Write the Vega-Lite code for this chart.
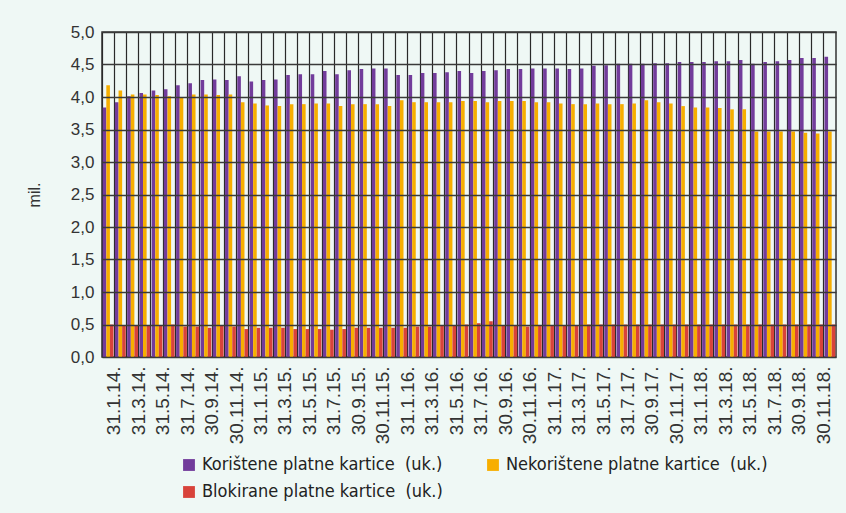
{
"$schema": "https://vega.github.io/schema/vega-lite/v6.json",
"width": 734, "height": 325,
"autosize": {"type": "none"},
"padding": {"left": 102, "top": 32, "right": 10, "bottom": 156},
"background": "#eff8f5",
"config": {"view": {"stroke": "#333", "strokeWidth": 1.5}, "font": "Liberation Sans"},
"data": {"values": [
{"d":"31.1.14.","s":"Korištene","v":3.84},{"d":"31.1.14.","s":"Nekorištene","v":4.18},{"d":"31.1.14.","s":"Blokirane","v":0.50},
{"d":"28.2.14.","s":"Korištene","v":3.92},{"d":"28.2.14.","s":"Nekorištene","v":4.10},{"d":"28.2.14.","s":"Blokirane","v":0.49},
{"d":"31.3.14.","s":"Korištene","v":4.01},{"d":"31.3.14.","s":"Nekorištene","v":4.04},{"d":"31.3.14.","s":"Blokirane","v":0.49},
{"d":"30.4.14.","s":"Korištene","v":4.06},{"d":"30.4.14.","s":"Nekorištene","v":4.04},{"d":"30.4.14.","s":"Blokirane","v":0.49},
{"d":"31.5.14.","s":"Korištene","v":4.10},{"d":"31.5.14.","s":"Nekorištene","v":4.03},{"d":"31.5.14.","s":"Blokirane","v":0.49},
{"d":"30.6.14.","s":"Korištene","v":4.12},{"d":"30.6.14.","s":"Nekorištene","v":4.01},{"d":"30.6.14.","s":"Blokirane","v":0.50},
{"d":"31.7.14.","s":"Korištene","v":4.18},{"d":"31.7.14.","s":"Nekorištene","v":4.00},{"d":"31.7.14.","s":"Blokirane","v":0.47},
{"d":"31.8.14.","s":"Korištene","v":4.21},{"d":"31.8.14.","s":"Nekorištene","v":4.04},{"d":"31.8.14.","s":"Blokirane","v":0.47},
{"d":"30.9.14.","s":"Korištene","v":4.26},{"d":"30.9.14.","s":"Nekorištene","v":4.04},{"d":"30.9.14.","s":"Blokirane","v":0.45},
{"d":"31.10.14.","s":"Korištene","v":4.27},{"d":"31.10.14.","s":"Nekorištene","v":4.03},{"d":"31.10.14.","s":"Blokirane","v":0.48},
{"d":"30.11.14.","s":"Korištene","v":4.26},{"d":"30.11.14.","s":"Nekorištene","v":4.04},{"d":"30.11.14.","s":"Blokirane","v":0.47},
{"d":"31.12.14.","s":"Korištene","v":4.32},{"d":"31.12.14.","s":"Nekorištene","v":3.92},{"d":"31.12.14.","s":"Blokirane","v":0.43},
{"d":"31.1.15.","s":"Korištene","v":4.24},{"d":"31.1.15.","s":"Nekorištene","v":3.90},{"d":"31.1.15.","s":"Blokirane","v":0.45},
{"d":"28.2.15.","s":"Korištene","v":4.26},{"d":"28.2.15.","s":"Nekorištene","v":3.87},{"d":"28.2.15.","s":"Blokirane","v":0.45},
{"d":"31.3.15.","s":"Korištene","v":4.27},{"d":"31.3.15.","s":"Nekorištene","v":3.86},{"d":"31.3.15.","s":"Blokirane","v":0.45},
{"d":"30.4.15.","s":"Korištene","v":4.34},{"d":"30.4.15.","s":"Nekorištene","v":3.89},{"d":"30.4.15.","s":"Blokirane","v":0.43},
{"d":"31.5.15.","s":"Korištene","v":4.35},{"d":"31.5.15.","s":"Nekorištene","v":3.89},{"d":"31.5.15.","s":"Blokirane","v":0.43},
{"d":"30.6.15.","s":"Korištene","v":4.35},{"d":"30.6.15.","s":"Nekorištene","v":3.90},{"d":"30.6.15.","s":"Blokirane","v":0.43},
{"d":"31.7.15.","s":"Korištene","v":4.40},{"d":"31.7.15.","s":"Nekorištene","v":3.90},{"d":"31.7.15.","s":"Blokirane","v":0.42},
{"d":"31.8.15.","s":"Korištene","v":4.35},{"d":"31.8.15.","s":"Nekorištene","v":3.86},{"d":"31.8.15.","s":"Blokirane","v":0.43},
{"d":"30.9.15.","s":"Korištene","v":4.41},{"d":"30.9.15.","s":"Nekorištene","v":3.89},{"d":"30.9.15.","s":"Blokirane","v":0.45},
{"d":"31.10.15.","s":"Korištene","v":4.43},{"d":"31.10.15.","s":"Nekorištene","v":3.89},{"d":"31.10.15.","s":"Blokirane","v":0.45},
{"d":"30.11.15.","s":"Korištene","v":4.44},{"d":"30.11.15.","s":"Nekorištene","v":3.89},{"d":"30.11.15.","s":"Blokirane","v":0.45},
{"d":"31.12.15.","s":"Korištene","v":4.44},{"d":"31.12.15.","s":"Nekorištene","v":3.86},{"d":"31.12.15.","s":"Blokirane","v":0.45},
{"d":"31.1.16.","s":"Korištene","v":4.34},{"d":"31.1.16.","s":"Nekorištene","v":3.95},{"d":"31.1.16.","s":"Blokirane","v":0.45},
{"d":"29.2.16.","s":"Korištene","v":4.34},{"d":"29.2.16.","s":"Nekorištene","v":3.92},{"d":"29.2.16.","s":"Blokirane","v":0.47},
{"d":"31.3.16.","s":"Korištene","v":4.37},{"d":"31.3.16.","s":"Nekorištene","v":3.92},{"d":"31.3.16.","s":"Blokirane","v":0.47},
{"d":"30.4.16.","s":"Korištene","v":4.37},{"d":"30.4.16.","s":"Nekorištene","v":3.92},{"d":"30.4.16.","s":"Blokirane","v":0.48},
{"d":"31.5.16.","s":"Korištene","v":4.38},{"d":"31.5.16.","s":"Nekorištene","v":3.92},{"d":"31.5.16.","s":"Blokirane","v":0.48},
{"d":"30.6.16.","s":"Korištene","v":4.40},{"d":"30.6.16.","s":"Nekorištene","v":3.94},{"d":"30.6.16.","s":"Blokirane","v":0.50},
{"d":"31.7.16.","s":"Korištene","v":4.37},{"d":"31.7.16.","s":"Nekorištene","v":3.94},{"d":"31.7.16.","s":"Blokirane","v":0.52},
{"d":"31.8.16.","s":"Korištene","v":4.40},{"d":"31.8.16.","s":"Nekorištene","v":3.92},{"d":"31.8.16.","s":"Blokirane","v":0.55},
{"d":"30.9.16.","s":"Korištene","v":4.41},{"d":"30.9.16.","s":"Nekorištene","v":3.94},{"d":"30.9.16.","s":"Blokirane","v":0.48},
{"d":"31.10.16.","s":"Korištene","v":4.43},{"d":"31.10.16.","s":"Nekorištene","v":3.94},{"d":"31.10.16.","s":"Blokirane","v":0.48},
{"d":"30.11.16.","s":"Korištene","v":4.43},{"d":"30.11.16.","s":"Nekorištene","v":3.94},{"d":"30.11.16.","s":"Blokirane","v":0.47},
{"d":"31.12.16.","s":"Korištene","v":4.44},{"d":"31.12.16.","s":"Nekorištene","v":3.92},{"d":"31.12.16.","s":"Blokirane","v":0.48},
{"d":"31.1.17.","s":"Korištene","v":4.44},{"d":"31.1.17.","s":"Nekorištene","v":3.92},{"d":"31.1.17.","s":"Blokirane","v":0.48},
{"d":"28.2.17.","s":"Korištene","v":4.44},{"d":"28.2.17.","s":"Nekorištene","v":3.90},{"d":"28.2.17.","s":"Blokirane","v":0.48},
{"d":"31.3.17.","s":"Korištene","v":4.43},{"d":"31.3.17.","s":"Nekorištene","v":3.89},{"d":"31.3.17.","s":"Blokirane","v":0.48},
{"d":"30.4.17.","s":"Korištene","v":4.44},{"d":"30.4.17.","s":"Nekorištene","v":3.89},{"d":"30.4.17.","s":"Blokirane","v":0.50},
{"d":"31.5.17.","s":"Korištene","v":4.48},{"d":"31.5.17.","s":"Nekorištene","v":3.90},{"d":"31.5.17.","s":"Blokirane","v":0.50},
{"d":"30.6.17.","s":"Korištene","v":4.49},{"d":"30.6.17.","s":"Nekorištene","v":3.89},{"d":"30.6.17.","s":"Blokirane","v":0.50},
{"d":"31.7.17.","s":"Korištene","v":4.51},{"d":"31.7.17.","s":"Nekorištene","v":3.89},{"d":"31.7.17.","s":"Blokirane","v":0.50},
{"d":"31.8.17.","s":"Korištene","v":4.51},{"d":"31.8.17.","s":"Nekorištene","v":3.90},{"d":"31.8.17.","s":"Blokirane","v":0.50},
{"d":"30.9.17.","s":"Korištene","v":4.51},{"d":"30.9.17.","s":"Nekorištene","v":3.95},{"d":"30.9.17.","s":"Blokirane","v":0.50},
{"d":"31.10.17.","s":"Korištene","v":4.52},{"d":"31.10.17.","s":"Nekorištene","v":3.92},{"d":"31.10.17.","s":"Blokirane","v":0.50},
{"d":"30.11.17.","s":"Korištene","v":4.52},{"d":"30.11.17.","s":"Nekorištene","v":3.90},{"d":"30.11.17.","s":"Blokirane","v":0.50},
{"d":"31.12.17.","s":"Korištene","v":4.54},{"d":"31.12.17.","s":"Nekorištene","v":3.86},{"d":"31.12.17.","s":"Blokirane","v":0.50},
{"d":"31.1.18.","s":"Korištene","v":4.54},{"d":"31.1.18.","s":"Nekorištene","v":3.84},{"d":"31.1.18.","s":"Blokirane","v":0.50},
{"d":"28.2.18.","s":"Korištene","v":4.54},{"d":"28.2.18.","s":"Nekorištene","v":3.84},{"d":"28.2.18.","s":"Blokirane","v":0.50},
{"d":"31.3.18.","s":"Korištene","v":4.55},{"d":"31.3.18.","s":"Nekorištene","v":3.83},{"d":"31.3.18.","s":"Blokirane","v":0.50},
{"d":"30.4.18.","s":"Korištene","v":4.55},{"d":"30.4.18.","s":"Nekorištene","v":3.81},{"d":"30.4.18.","s":"Blokirane","v":0.50},
{"d":"31.5.18.","s":"Korištene","v":4.57},{"d":"31.5.18.","s":"Nekorištene","v":3.81},{"d":"31.5.18.","s":"Blokirane","v":0.50},
{"d":"30.6.18.","s":"Korištene","v":4.51},{"d":"30.6.18.","s":"Nekorištene","v":3.47},{"d":"30.6.18.","s":"Blokirane","v":0.50},
{"d":"31.7.18.","s":"Korištene","v":4.54},{"d":"31.7.18.","s":"Nekorištene","v":3.47},{"d":"31.7.18.","s":"Blokirane","v":0.50},
{"d":"31.8.18.","s":"Korištene","v":4.55},{"d":"31.8.18.","s":"Nekorištene","v":3.47},{"d":"31.8.18.","s":"Blokirane","v":0.50},
{"d":"30.9.18.","s":"Korištene","v":4.57},{"d":"30.9.18.","s":"Nekorištene","v":3.47},{"d":"30.9.18.","s":"Blokirane","v":0.50},
{"d":"31.10.18.","s":"Korištene","v":4.60},{"d":"31.10.18.","s":"Nekorištene","v":3.45},{"d":"31.10.18.","s":"Blokirane","v":0.50},
{"d":"30.11.18.","s":"Korištene","v":4.60},{"d":"30.11.18.","s":"Nekorištene","v":3.44},{"d":"30.11.18.","s":"Blokirane","v":0.50},
{"d":"31.12.18.","s":"Korištene","v":4.62},{"d":"31.12.18.","s":"Nekorištene","v":3.47},{"d":"31.12.18.","s":"Blokirane","v":0.50}
]},
"mark": {"type": "bar"},
"encoding": {
"x": {"field": "d", "type": "nominal", "sort": null,
  "scale": {"paddingInner": 0, "paddingOuter": 0},
  "axis": {"title": null, "bandPosition": 0, "labelOffset": 6.1, "labelAngle": 270, "labelAlign": "right", "labelBaseline": "middle",
    "labelExpr": "indexof(['1','3','5','7','9','11'], split(datum.value, '.')[1]) >= 0 ? datum.value : ''",
    "labelOverlap": false, "labelFontSize": 19, "labelColor": "#333", "labelPadding": 9, "ticks": false, "domain": false,
    "grid": true, "gridColor": "#2a2a2a", "gridWidth": 1.2, "gridOpacity": 1}},
"xOffset": {"field": "s", "type": "nominal", "sort": ["Korištene", "Nekorištene", "Blokirane"],
  "scale": {"paddingInner": 0, "paddingOuter": 0.2}},
"y": {"field": "v", "type": "quantitative",
  "scale": {"domain": [0, 5], "nice": false},
  "axis": {"title": "mil.", "values": [0, 0.5, 1, 1.5, 2, 2.5, 3, 3.5, 4, 4.5, 5],
    "labelExpr": "replace(format(datum.value, '.1f'), '.', ',')",
    "labelFontSize": 17, "labelColor": "#333", "labelPadding": 8, "ticks": false, "domain": false,
    "grid": true, "gridColor": "#3a3a3a", "gridWidth": 1.6, "gridOpacity": 1, "zindex": 1,
    "titleFontSize": 16, "titleFontWeight": "normal", "titleColor": "#333", "titlePadding": 28}},
"color": {"field": "s", "type": "nominal",
  "scale": {"domain": ["Korištene", "Nekorištene", "Blokirane"], "range": ["#723c9b", "#f7ae00", "#d8433a"]},
  "legend": {"title": null, "orient": "none", "legendX": 78, "legendY": 424, "columns": 2, "direction": "horizontal",
    "labelExpr": "datum.label + ' platne kartice\u00a0 (uk.)'",
    "symbolType": "square", "symbolSize": 140, "symbolStrokeWidth": 0, "symbolOpacity": 1,
    "labelFont": "'DejaVu Sans Condensed', 'Liberation Sans'", "labelFontSize": 18, "labelColor": "#222", "labelLimit": 400,
    "columnPadding": 41, "rowPadding": 9}}
}
}
